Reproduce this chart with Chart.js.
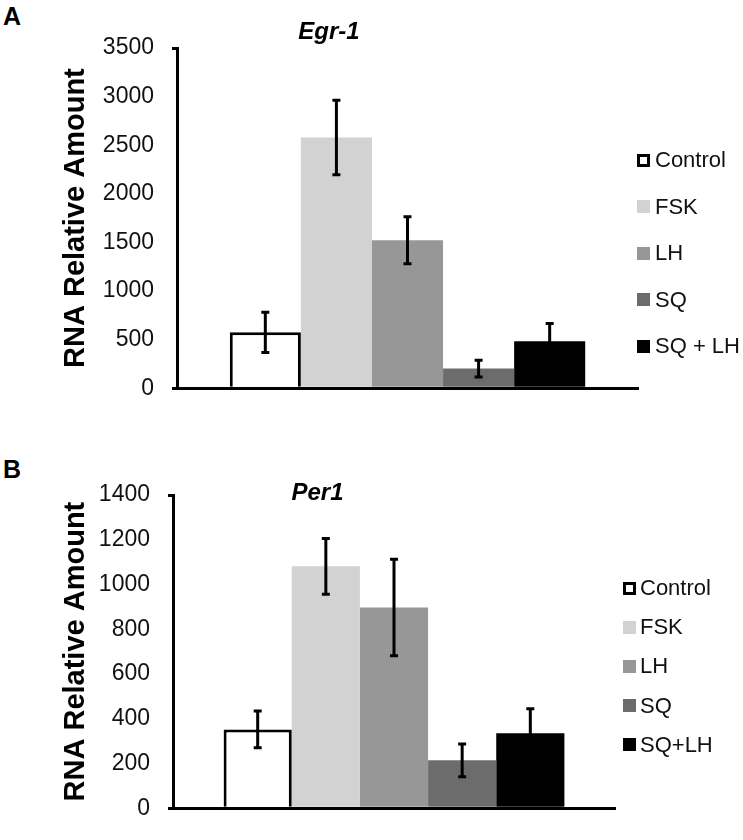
<!DOCTYPE html>
<html>
<head>
<meta charset="utf-8">
<script src="https://cdn.jsdelivr.net/npm/chart.js@4/dist/chart.umd.min.js"></script>
<style>
  body{margin:0;background:#fff;width:743px;height:840px;position:relative;overflow:hidden;font-family:"Liberation Sans",Arial,sans-serif;}
  canvas{position:absolute;left:20px;}
  .tag{position:absolute;left:3px;font-weight:bold;font-size:25px;line-height:1;color:#000;}
  .legend{position:absolute;left:0;top:0;}
  .legend div{position:absolute;white-space:nowrap;display:flex;align-items:center;font-size:22px;line-height:26px;height:26px;color:#111;}
  .legend i{display:inline-block;width:13px;height:13px;box-sizing:border-box;}
</style>
</head>
<body>
<div class="tag" style="top:4px">A</div>
<div class="tag" style="top:457px">B</div>
<canvas id="chartA" width="723" height="420" style="top:0"></canvas>
<canvas id="chartB" width="723" height="420" style="top:420px"></canvas>
<div class="legend" id="legA"></div>
<div class="legend" id="legB"></div>
<script>
// datos
const labelsA = ['Control', 'FSK', 'LH', 'SQ', 'SQ + LH'];
const labelsB = ['Control', 'FSK', 'LH', 'SQ', 'SQ+LH'];
const egr1    = [575, 2580, 1522, 202, 484];
const egr1Err = [207, 383, 242, 86, 182];
const per1    = [352, 1081, 897, 214, 335];
const per1Err = [82, 125, 216, 73, 109];
const colores = ['#ffffff', '#d2d2d2', '#979797', '#6c6c6c', '#000000'];

const FONT = '"Liberation Sans", Arial, sans-serif';

// barras de error dibujadas con la escala y
const errorBars = {
  id: 'errorBars',
  afterDatasetsDraw(chart){
    const {ctx} = chart, y = chart.scales.y;
    ctx.save();
    ctx.strokeStyle = '#000';
    ctx.lineWidth = 3;
    chart.data.datasets.forEach((ds, i) => {
      const bar = chart.getDatasetMeta(i).data[0];
      const v = ds.data[0], e = ds.err;
      const top = y.getPixelForValue(v + e), bot = y.getPixelForValue(v - e);
      ctx.beginPath();
      ctx.moveTo(bar.x, top); ctx.lineTo(bar.x, bot);
      ctx.moveTo(bar.x - 4, top); ctx.lineTo(bar.x + 4, top);
      ctx.moveTo(bar.x - 4, bot); ctx.lineTo(bar.x + 4, bot);
      ctx.stroke();
    });
    ctx.restore();
  }
};

function panel(id, titulo, etiquetas, valores, errores, yMax, paso, cfg){
  const datasets = etiquetas.map((lab, i) => ({
    label: lab,
    data: [valores[i]],
    err: errores[i],
    backgroundColor: colores[i],
    borderColor: '#000',
    borderWidth: i === 0 ? 3 : 0,
    categoryPercentage: 0.771,
    barPercentage: 1
  }));
  return new Chart(document.getElementById(id).getContext('2d'), {
    type: 'bar',
    data: { labels: [''], datasets },
    plugins: [errorBars],
    options: {
      responsive: false,
      animation: false,
      layout: { padding: { left: 0, right: cfg.padRight, top: 0, bottom: 0 } },
      plugins: {
        legend: { display: false },
        tooltip: { enabled: false },
        title: {
          display: true, text: titulo, color: '#000',
          font: { family: FONT, size: 24, weight: 'bold', style: 'italic', lineHeight: 1.2 },
          padding: { top: cfg.titleTop, bottom: cfg.titleBottom }
        }
      },
      scales: {
        x: {
          grid: { display: false },
          ticks: { display: false },
          border: { display: true, color: '#000', width: 3 },
          afterFit: s => { s.height = cfg.xHeight; }
        },
        y: {
          min: 0, max: yMax,
          ticks: { stepSize: paso, padding: 18, color: '#111', font: { family: FONT, size: 23 },
                   callback: v => String(v) },
          grid: {
            drawOnChartArea: false, drawTicks: true, tickLength: 5, lineWidth: 3,
            color: c => (c.tick && (c.tick.value === 0 || c.tick.value === yMax)) ? '#000' : 'rgba(0,0,0,0)'
          },
          border: { display: true, color: '#000', width: 3 },
          title: {
            display: true, text: 'RNA Relative Amount', color: '#000',
            font: { family: FONT, size: 29, weight: 'bold', lineHeight: 1.2 },
            padding: { top: 38.6, bottom: 0 }
          },
          afterFit: s => { s.width = cfg.yWidth; }
        }
      }
    }
  });
}

function leyenda(id, etiquetas, x, y0, salto, sep){
  const el = document.getElementById(id);
  etiquetas.forEach((lab, i) => {
    const d = document.createElement('div');
    d.style.left = x + 'px';
    d.style.top = (y0 + i * salto - 13) + 'px';
    const b = document.createElement('i');
    b.style.background = colores[i];
    if(i === 0) b.style.border = '3px solid #000';
    b.style.marginRight = sep + 'px';
    d.appendChild(b);
    d.appendChild(document.createTextNode(lab));
    el.appendChild(d);
  });
}

panel('chartA', 'Egr-1', labelsA, egr1, egr1Err, 3500, 500,
  { padRight: 105, yWidth: 157, xHeight: 25, titleTop: 17.6, titleBottom: 1.6 });
panel('chartB', 'Per1', labelsB, per1, per1Err, 1400, 200,
  { padRight: 128, yWidth: 153, xHeight: 11, titleTop: 58.6, titleBottom: -12.4 });

leyenda('legA', labelsA, 637, 160, 46.5, 5);
leyenda('legB', labelsB, 623, 588, 39.2, 4);
</script>
</body>
</html>
